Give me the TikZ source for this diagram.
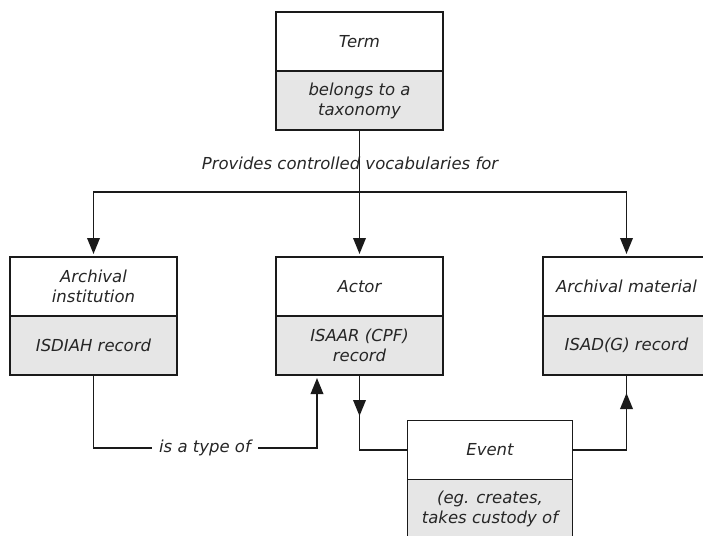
\documentclass[tikz,border=0pt]{standalone}
\usepackage{fontspec}
\setmainfont{DejaVu Sans}
\usetikzlibrary{arrows.meta,decorations.markings,calc}
\definecolor{boxgray}{HTML}{E6E6E6}
\definecolor{ink}{HTML}{1A1A1A}
\definecolor{txt}{HTML}{262626}
\begin{document}
\begin{tikzpicture}[x=1pt,y=-1pt,
  lbl/.style={font=\fontsize{16.5}{20}\selectfont\itshape, text=txt, align=center},
  boxtop/.style={lbl, draw=ink, line width=1.6pt, minimum width=167pt, minimum height=59pt, inner sep=0pt, outer sep=0pt, fill=white},
  boxbot/.style={boxtop, fill=boxgray},
  conn/.style={draw=ink, line width=1.9pt},
  arr/.style={conn, -{Triangle[width=12.5pt,length=16pt]}, shorten >=3pt},
  midarrow/.style={conn, postaction={decorate}, decoration={markings, mark=at position #1 with {\arrow{Triangle[width=12.5pt,length=16pt]}}}},
]
\useasboundingbox (0,0) rectangle (703,535);
\begin{scope}
\clip (0,0) rectangle (703,535);
% boxes
\node[boxtop] (termT) at (359.5,41.5) {Term};
\node[boxbot] (termB) at (359.5,100.5) {belongs to a\\taxonomy};
\node[boxtop] (instT) at (93.5,286.5) {Archival\\institution};
\node[boxbot] (instB) at (93.5,345.5) {ISDIAH record};
\node[boxtop] (actT) at (359.5,286.5) {Actor};
\node[boxbot] (actB) at (359.5,345.5) {ISAAR (CPF)\\record};
\node[boxtop] (matT) at (626.5,286.5) {Archival material};
\node[boxbot] (matB) at (626.5,345.5) {ISAD(G) record};
\node[boxtop, minimum width=165pt] (evT) at (490,450) {Event};
\node[boxbot, minimum width=165pt, minimum height=75pt, anchor=north] (evB) at (evT.south) {(eg. creates,\\takes custody of\\~};
% connectors
\coordinate (hub) at (359.5,192);
\draw[arr] (termB.south) -- (actT.north);
\draw[arr] (hub) -| (instT.north);
\draw[arr] (hub) -| (matT.north);
\node[lbl] (prov) at (350,163) {Provides controlled vocabularies for};
\coordinate (isaC) at (317,448);
\draw[arr] (instB.south) |- (isaC) -- (isaC |- actB.south);
\node[lbl, fill=white, inner xsep=7pt, inner ysep=1pt] (isa) at (205,448) {is a type of};
\draw[midarrow=41pt] (actB.south) |- (evT.west);
\draw[midarrow=-18pt] (evT.east) -| (matB.south);
\end{scope}
\end{tikzpicture}
\end{document}
